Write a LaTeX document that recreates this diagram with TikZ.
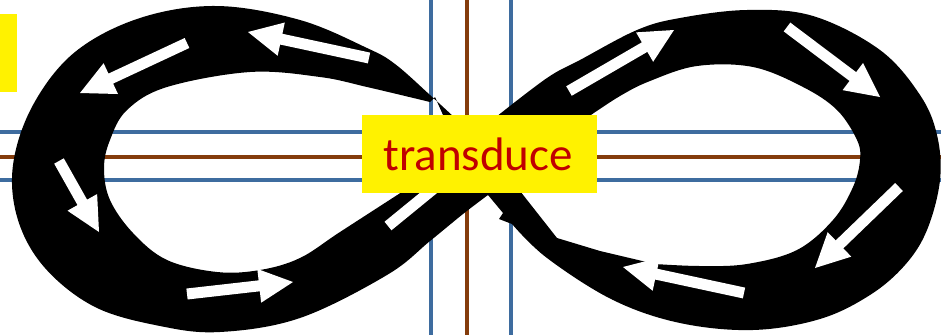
\documentclass[tikz,border=0pt]{standalone}
\usepackage{fontspec}
\newfontfamily\carlito{Carlito}
\usetikzlibrary{calc}
\definecolor{lineblue}{HTML}{3E6C9F}
\definecolor{linebrown}{HTML}{843C0C}
\definecolor{textred}{HTML}{C00000}
\newcommand\whitearrow[2]{%
  \coordinate (wb) at ($(#2)!34pt!(#1)$);
  \fill[warrow] ($(#1)!5.5pt!90:(#2)$) -- ($(wb)!5.5pt!-90:(#1)$) -- ($(wb)!17pt!-90:(#1)$) -- (#2)
     -- ($(wb)!17pt!90:(#1)$) -- ($(wb)!5.5pt!90:(#1)$) -- ($(#1)!5.5pt!-90:(#2)$) -- cycle;}
\begin{document}
\begin{tikzpicture}[x=1pt,y=-1pt,
  blueline/.style={lineblue,line width=3.3pt},
  brownline/.style={linebrown,line width=4.6pt},
  band/.style={fill=black,even odd rule},
  warrow/.style={fill=white}]
\useasboundingbox (0,0) rectangle (941,335);
% guide lines
\coordinate (h1a) at (0,132); \coordinate (h1b) at (941,132);
\coordinate (h2a) at (0,157); \coordinate (h2b) at (941,157);
\coordinate (h3a) at (0,180); \coordinate (h3b) at (941,180);
\coordinate (v1a) at (431,0); \coordinate (v1b) at (431,335);
\coordinate (v2a) at (467,0); \coordinate (v2b) at (467,335);
\coordinate (v3a) at (511,0); \coordinate (v3b) at (511,335);
\draw[blueline] (h1a) -- (h1b);
\draw[brownline] (h2a) -- (h2b);
\draw[blueline] (h3a) -- (h3b);
\draw[blueline] (v1a) -- (v1b);
\draw[brownline] (v2a) -- (v2b);
\draw[blueline] (v3a) -- (v3b);
% left ring
\fill[band]
  plot[smooth,tension=0.6] coordinates {(455,118) (430,95) (395,64) (367,48) (300,20) (217,6) (140,18) (75,52) (33,105) (13,165) (18,220) (45,268) (95,307) (160,326) (220,332) (300,318) (387,275) (430,241) (463,214) (488,195)}
  -- (490,185) -- (475,150) -- cycle
  plot[smooth,tension=0.6] coordinates {(405,190) (340,232) (300,258) (260,270) (217,272) (167,260) (133,233) (110,200) (104,168) (110,140) (127,110) (167,87) (250,72) (320,77) (367,87) (430,102)}
  -- (435,97) -- (443,115) -- (458,155) -- cycle;
% right ring
\fill[band]
  (488,195) -- (503,213) -- (499,219) --
  plot[smooth,tension=0.6] coordinates {(512,224) (547,258) (613,300) (680,323) (753,330) (820,319) (870,295) (905,265) (927,230) (940,180) (937,135) (920,95) (880,50) (813,16) (747,10) (680,18) (637,30) (580,60) (547,78) (496,117)}
  -- (470,150) -- (485,185) -- cycle
  plot[smooth,tension=0.6] coordinates {(588,117) (620,96) (650,81) (697,66) (753,67) (803,87) (837,110) (857,140) (860,160) (853,187) (833,220) (797,250) (747,264) (700,266) (655,264)}
  -- (600,251) -- (557,238) -- (520,191) -- (505,155) -- cycle;
% white arrows
\coordinate (a1t) at (187,43);  \coordinate (a1h) at (80,93);
\coordinate (a2t) at (369,58);  \coordinate (a2h) at (248,32);
\coordinate (a3t) at (59,161);  \coordinate (a3h) at (99,232);
\coordinate (a4t) at (187,294); \coordinate (a4h) at (293,282);
\coordinate (a5t) at (388,226); \coordinate (a5h) at (481,150);
\coordinate (a6t) at (569,91);  \coordinate (a6h) at (674,30);
\coordinate (a7t) at (787,27);  \coordinate (a7h) at (880,97);
\coordinate (a8t) at (899,187); \coordinate (a8h) at (815,268);
\coordinate (a9t) at (744,293); \coordinate (a9h) at (623,267);
\whitearrow{a1t}{a1h}
\whitearrow{a2t}{a2h}
\whitearrow{a3t}{a3h}
\whitearrow{a4t}{a4h}
\whitearrow{a5t}{a5h}
\whitearrow{a6t}{a6h}
\whitearrow{a7t}{a7h}
\whitearrow{a8t}{a8h}
\whitearrow{a9t}{a9h}
% label box
\node[fill=yellow, minimum width=235pt, minimum height=78.5pt, inner sep=0pt] (box) at (479.5,154) {};
\node[anchor=base, text=textred, inner sep=0pt, font=\carlito\fontsize{47}{50}\selectfont] (label) at (478,170) {transduce};
% left yellow tag
\node[fill=yellow, minimum width=17pt, minimum height=78pt, inner sep=0pt, anchor=north west] (tag) at (0,14) {};
\end{tikzpicture}
\end{document}
